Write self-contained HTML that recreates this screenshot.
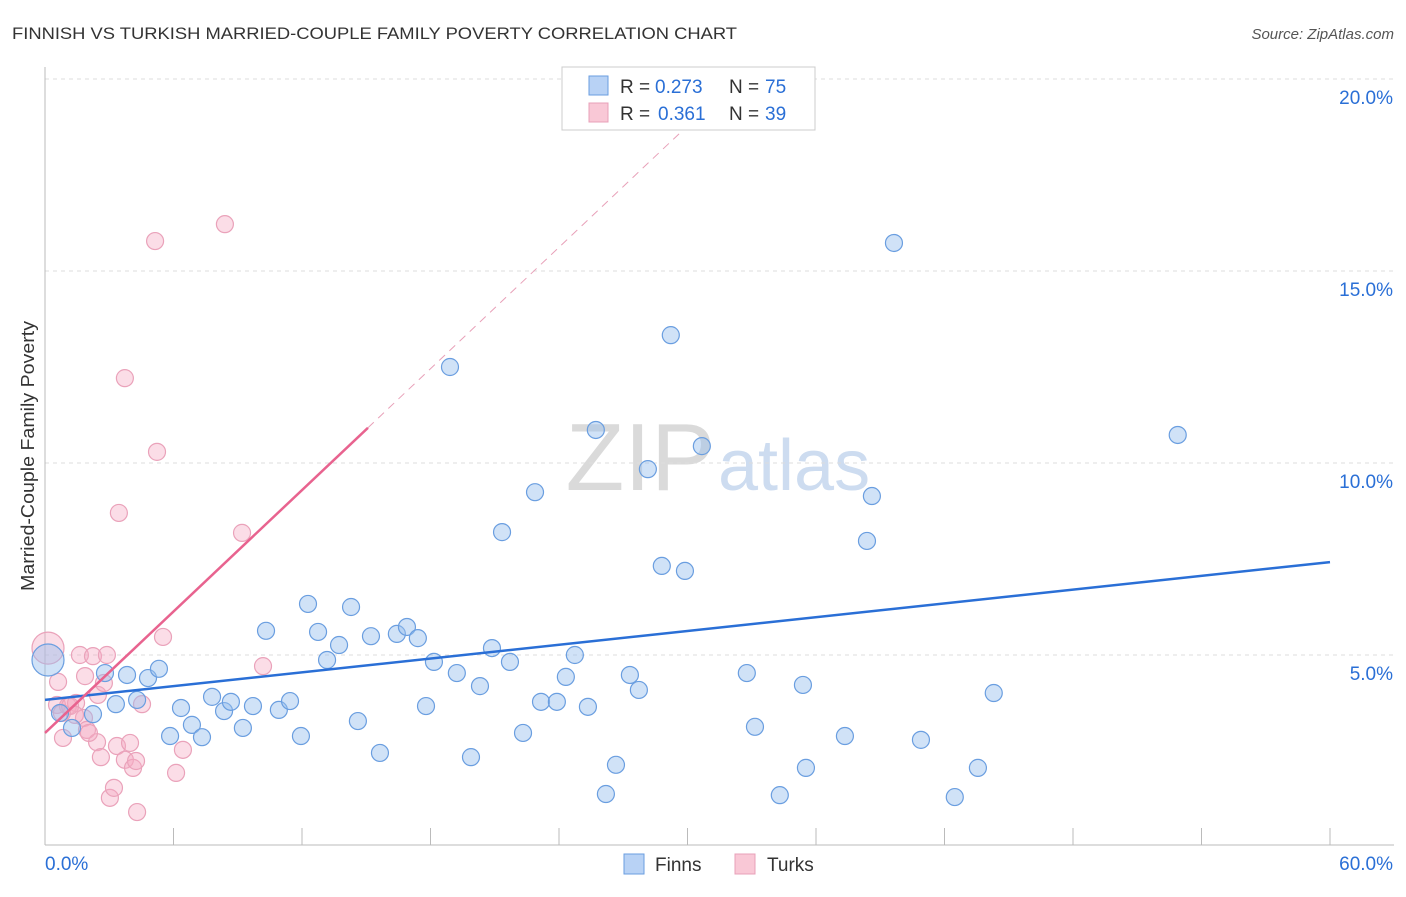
<!DOCTYPE html>
<html><head><meta charset="utf-8"><style>
body{margin:0;background:#fff;font-family:"Liberation Sans",sans-serif;}
svg text{font-family:"Liberation Sans",sans-serif;}
</style></head><body>
<svg id="c" width="1406" height="892">
<text x="12" y="39" font-size="17" fill="#333" textLength="725" lengthAdjust="spacingAndGlyphs">FINNISH VS TURKISH MARRIED-COUPLE FAMILY POVERTY CORRELATION CHART</text>
<text x="1394" y="39" font-size="15" fill="#555" font-style="italic" text-anchor="end">Source: ZipAtlas.com</text>
<text transform="translate(34,456) rotate(-90)" font-size="18" fill="#333" text-anchor="middle" textLength="270" lengthAdjust="spacingAndGlyphs">Married-Couple Family Poverty</text>
<text x="715" y="490" font-size="96" fill="#dadada" text-anchor="end" font-family="Liberation Serif">ZIP</text>
<text x="718" y="490" font-size="72" fill="#cddcf0">atlas</text>
<g id="grid"></g><g id="marks"></g>
<g>
<rect x="562" y="67" width="253" height="63" fill="#fff" stroke="#ccc"/>
<rect x="589" y="76" width="19" height="19" fill="#b8d2f5" stroke="#6a9ee0"/>
<rect x="589" y="103" width="19" height="19" fill="#f9c8d6" stroke="#e8a0b8"/>
<text x="620" y="93" font-size="19" fill="#333">R =</text>
<text x="655" y="93" font-size="19" fill="#2a6fd6">0.273</text>
<text x="729" y="93" font-size="19" fill="#333">N =</text>
<text x="765" y="93" font-size="19" fill="#2a6fd6">75</text>
<text x="620" y="120" font-size="19" fill="#333">R =</text>
<text x="658" y="120" font-size="19" fill="#2a6fd6">0.361</text>
<text x="729" y="120" font-size="19" fill="#333">N =</text>
<text x="765" y="120" font-size="19" fill="#2a6fd6">39</text>
</g>
<g>
<rect x="624" y="854" width="20" height="20" fill="#b8d2f5" stroke="#6a9ee0"/>
<text x="655" y="871" font-size="19" fill="#333">Finns</text>
<rect x="735" y="854" width="20" height="20" fill="#f9c8d6" stroke="#e8a0b8"/>
<text x="767" y="871" font-size="19" fill="#333">Turks</text>
</g>
</svg>
<script>
const finnsX=[0.14,0.70,1.26,2.24,2.80,3.31,3.83,4.30,4.81,5.32,5.84,6.35,6.86,7.33,7.80,8.36,8.68,9.24,9.71,10.32,10.92,11.44,11.95,12.28,12.75,13.17,13.73,14.29,14.61,15.22,15.64,16.43,16.90,17.41,17.79,18.16,18.91,19.23,19.89,20.31,20.87,21.34,21.71,22.32,22.88,23.16,23.90,24.32,24.74,25.35,25.72,26.19,26.66,27.31,27.73,28.15,28.80,29.22,29.88,30.67,32.77,33.15,34.31,35.53,35.39,37.35,38.38,38.61,39.64,40.90,42.48,43.56,44.30,52.89];
const finnsY=[4.87,3.49,3.10,3.46,4.53,3.72,4.48,3.83,4.40,4.64,2.89,3.62,3.18,2.86,3.91,3.54,3.78,3.10,3.67,5.63,3.57,3.80,2.89,6.33,5.60,4.87,5.26,6.25,3.28,5.49,2.45,5.55,5.73,5.44,3.67,4.82,12.50,4.53,2.34,4.19,5.18,8.20,4.82,2.97,9.24,3.78,3.78,4.43,5.00,3.65,10.86,1.38,2.14,4.48,4.09,9.84,7.32,13.33,7.19,10.44,4.53,3.13,1.35,2.06,4.22,2.89,7.97,9.14,15.73,2.79,1.30,2.06,4.01,10.73];
const turksX=[0.14,0.61,0.56,0.84,1.07,1.45,1.63,1.82,1.87,1.96,2.24,2.43,2.47,2.61,2.75,2.89,3.03,3.22,3.36,3.45,3.73,3.73,3.97,4.11,4.25,4.30,4.53,5.14,5.23,5.51,6.12,6.44,8.40,9.20,10.18,1.17,1.40,2.05,0.79];
const turksY=[5.18,4.30,3.70,2.84,3.67,3.75,5.00,3.36,4.45,3.05,4.97,2.73,3.96,2.34,4.27,5.00,1.28,1.54,2.63,8.70,12.21,2.27,2.71,2.06,2.24,0.91,3.72,15.78,10.29,5.47,1.93,2.53,16.22,8.18,4.71,3.67,3.44,2.97,3.49];
const finnsTrend=[3.83,7.42];
const turksTrend=[2.97,0.527];
const xTicks=[0,60];
const yTicks=[5,10,15,20];
const NS="http://www.w3.org/2000/svg";
const X=v=>45+v/60*1285, Y=v=>847-v*38.4;
function mk(t,a,p){const e=document.createElementNS(NS,t);for(const k in a)e.setAttribute(k,a[k]);(p||document.getElementById('marks')).appendChild(e);return e;}
const g=document.getElementById('grid');
for(const t of yTicks){
const l=mk('line',{x1:45,x2:1394,y1:Y(t),y2:Y(t),stroke:'#ddd','stroke-dasharray':'4,4'},g);


const tx=mk('text',{x:1393,y:Y(t)+25,'font-size':19,fill:'#2a6fd6','text-anchor':'end'},g);
tx.textContent=t.toFixed(1)+'%';


}
const ax=mk('line',{x1:45,x2:1394,y1:845,y2:845,stroke:'#bbb'},g);


const ay=mk('line',{x1:45,x2:45,y1:67,y2:845,stroke:'#bbb'},g);


for(let i=0;i<=10;i++){const tk=mk('line',{x1:X(i*6),x2:X(i*6),y1:828,y2:845,stroke:'#bbb'},g);

}
xTicks.forEach((t,i)=>{const tx=mk('text',{x:i?1393:45,y:870,'font-size':19,fill:'#2a6fd6','text-anchor':i?'end':'start'},g);
tx.textContent=t.toFixed(1)+'%';

});
function pts(xs,ys,fill,stroke,name){xs.forEach((x,i)=>{const c=mk('circle',{cx:X(x),cy:Y(ys[i]),r:i===0?16:8.5,fill:fill,stroke:stroke,'stroke-width':1.2});

});}
pts(turksX,turksY,'rgba(245,170,195,0.4)','#eaa2ba','turks-point');
pts(finnsX,finnsY,'rgba(150,190,238,0.45)','#6a9ee0','finns-point');
const bl=mk('line',{x1:X(0),y1:Y(finnsTrend[0]),x2:X(60),y2:Y(finnsTrend[1]),stroke:'#2a6fd6','stroke-width':2.5});


const xe=(20-turksTrend[0])/turksTrend[1];
const pl=mk('line',{x1:X(0),y1:Y(turksTrend[0]),x2:X(15.08),y2:Y(turksTrend[0]+turksTrend[1]*15.08),stroke:'#e8638f','stroke-width':2.5});


const pd=mk('line',{x1:X(15.08),y1:Y(turksTrend[0]+turksTrend[1]*15.08),x2:X(xe),y2:Y(20),stroke:'#e8a0b8','stroke-width':1,'stroke-dasharray':'8,6'});


</script>
</body></html>
